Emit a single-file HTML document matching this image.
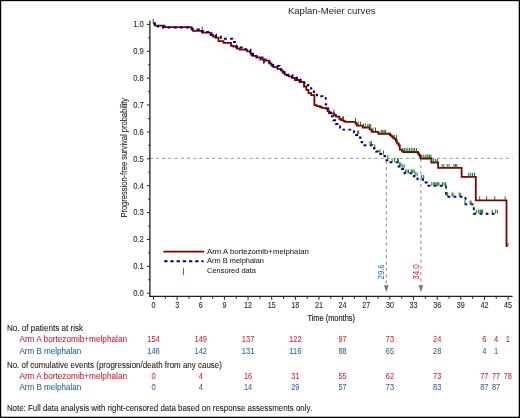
<!DOCTYPE html>
<html><head><meta charset="utf-8"><style>
html,body{margin:0;padding:0;background:#fff;}
svg{display:block;font-family:"Liberation Sans", sans-serif;will-change:transform;}
</style></head><body>
<svg width="520" height="418" viewBox="0 0 520 418">
<rect x="0" y="0" width="520" height="418" fill="#fff"/>
<rect x="0" y="0" width="520" height="1.15" fill="#000"/>
<rect x="0" y="0" width="1.2" height="418" fill="#000"/>
<rect x="518.7" y="0" width="1.3" height="418" fill="#000"/>
<rect x="0" y="416.7" width="520" height="1.3" fill="#000"/>
<text x="287.9" y="14.4" font-size="9.3" fill="#222" stroke="#222" stroke-width="0" text-anchor="start" textLength="87.6" lengthAdjust="spacingAndGlyphs" >Kaplan-Meier curves</text>
<line x1="149.45" y1="158.3" x2="512.6" y2="158.3" stroke="#999" stroke-width="1" stroke-dasharray="3.3 2.95"/>
<line x1="386.3" y1="160.7" x2="386.3" y2="285.5" stroke="#888" stroke-width="1" stroke-dasharray="3.2 3.1"/>
<path d="M384.0 285.3 L388.6 285.3 L386.3 292.2 Z" fill="#777"/>
<line x1="420.9" y1="158.7" x2="420.9" y2="285.5" stroke="#888" stroke-width="1" stroke-dasharray="3.2 3.1"/>
<path d="M418.59999999999997 285.3 L423.2 285.3 L420.9 292.2 Z" fill="#777"/>
<line x1="149.9" y1="20.5" x2="149.9" y2="296.9" stroke="#222" stroke-width="1.3"/>
<line x1="149.3" y1="296.3" x2="512.6" y2="296.3" stroke="#222" stroke-width="1.2"/>
<line x1="147" y1="293.20" x2="150" y2="293.20" stroke="#222" stroke-width="1"/>
<text x="143.9" y="296.10" font-size="8.6" fill="#222" stroke="#222" stroke-width="0.08" text-anchor="end" textLength="10.7" lengthAdjust="spacingAndGlyphs" >0.0</text>
<line x1="147" y1="266.32" x2="150" y2="266.32" stroke="#222" stroke-width="1"/>
<text x="143.9" y="269.22" font-size="8.6" fill="#222" stroke="#222" stroke-width="0.08" text-anchor="end" textLength="10.7" lengthAdjust="spacingAndGlyphs" >0.1</text>
<line x1="147" y1="239.44" x2="150" y2="239.44" stroke="#222" stroke-width="1"/>
<text x="143.9" y="242.34" font-size="8.6" fill="#222" stroke="#222" stroke-width="0.08" text-anchor="end" textLength="10.7" lengthAdjust="spacingAndGlyphs" >0.2</text>
<line x1="147" y1="212.56" x2="150" y2="212.56" stroke="#222" stroke-width="1"/>
<text x="143.9" y="215.46" font-size="8.6" fill="#222" stroke="#222" stroke-width="0.08" text-anchor="end" textLength="10.7" lengthAdjust="spacingAndGlyphs" >0.3</text>
<line x1="147" y1="185.68" x2="150" y2="185.68" stroke="#222" stroke-width="1"/>
<text x="143.9" y="188.58" font-size="8.6" fill="#222" stroke="#222" stroke-width="0.08" text-anchor="end" textLength="10.7" lengthAdjust="spacingAndGlyphs" >0.4</text>
<line x1="147" y1="158.80" x2="150" y2="158.80" stroke="#222" stroke-width="1"/>
<text x="143.9" y="161.70" font-size="8.6" fill="#222" stroke="#222" stroke-width="0.08" text-anchor="end" textLength="10.7" lengthAdjust="spacingAndGlyphs" >0.5</text>
<line x1="147" y1="131.92" x2="150" y2="131.92" stroke="#222" stroke-width="1"/>
<text x="143.9" y="134.82" font-size="8.6" fill="#222" stroke="#222" stroke-width="0.08" text-anchor="end" textLength="10.7" lengthAdjust="spacingAndGlyphs" >0.6</text>
<line x1="147" y1="105.04" x2="150" y2="105.04" stroke="#222" stroke-width="1"/>
<text x="143.9" y="107.94" font-size="8.6" fill="#222" stroke="#222" stroke-width="0.08" text-anchor="end" textLength="10.7" lengthAdjust="spacingAndGlyphs" >0.7</text>
<line x1="147" y1="78.16" x2="150" y2="78.16" stroke="#222" stroke-width="1"/>
<text x="143.9" y="81.06" font-size="8.6" fill="#222" stroke="#222" stroke-width="0.08" text-anchor="end" textLength="10.7" lengthAdjust="spacingAndGlyphs" >0.8</text>
<line x1="147" y1="51.28" x2="150" y2="51.28" stroke="#222" stroke-width="1"/>
<text x="143.9" y="54.18" font-size="8.6" fill="#222" stroke="#222" stroke-width="0.08" text-anchor="end" textLength="10.7" lengthAdjust="spacingAndGlyphs" >0.9</text>
<line x1="147" y1="24.40" x2="150" y2="24.40" stroke="#222" stroke-width="1"/>
<text x="143.9" y="27.30" font-size="8.6" fill="#222" stroke="#222" stroke-width="0.08" text-anchor="end" textLength="10.7" lengthAdjust="spacingAndGlyphs" >1.0</text>
<line x1="148.2" y1="279.76" x2="150" y2="279.76" stroke="#222" stroke-width="1"/>
<line x1="148.2" y1="252.88" x2="150" y2="252.88" stroke="#222" stroke-width="1"/>
<line x1="148.2" y1="226.00" x2="150" y2="226.00" stroke="#222" stroke-width="1"/>
<line x1="148.2" y1="199.12" x2="150" y2="199.12" stroke="#222" stroke-width="1"/>
<line x1="148.2" y1="172.24" x2="150" y2="172.24" stroke="#222" stroke-width="1"/>
<line x1="148.2" y1="145.36" x2="150" y2="145.36" stroke="#222" stroke-width="1"/>
<line x1="148.2" y1="118.48" x2="150" y2="118.48" stroke="#222" stroke-width="1"/>
<line x1="148.2" y1="91.60" x2="150" y2="91.60" stroke="#222" stroke-width="1"/>
<line x1="148.2" y1="64.72" x2="150" y2="64.72" stroke="#222" stroke-width="1"/>
<line x1="148.2" y1="37.84" x2="150" y2="37.84" stroke="#222" stroke-width="1"/>
<line x1="153.50" y1="296" x2="153.50" y2="299.8" stroke="#222" stroke-width="1"/>
<text x="153.50" y="308.3" font-size="8.5" fill="#222" stroke="#222" stroke-width="0.08" text-anchor="middle" textLength="4.0" lengthAdjust="spacingAndGlyphs" >0</text>
<line x1="177.14" y1="296" x2="177.14" y2="299.8" stroke="#222" stroke-width="1"/>
<text x="177.14" y="308.3" font-size="8.5" fill="#222" stroke="#222" stroke-width="0.08" text-anchor="middle" textLength="4.0" lengthAdjust="spacingAndGlyphs" >3</text>
<line x1="200.78" y1="296" x2="200.78" y2="299.8" stroke="#222" stroke-width="1"/>
<text x="200.78" y="308.3" font-size="8.5" fill="#222" stroke="#222" stroke-width="0.08" text-anchor="middle" textLength="4.0" lengthAdjust="spacingAndGlyphs" >6</text>
<line x1="224.42" y1="296" x2="224.42" y2="299.8" stroke="#222" stroke-width="1"/>
<text x="224.42" y="308.3" font-size="8.5" fill="#222" stroke="#222" stroke-width="0.08" text-anchor="middle" textLength="4.0" lengthAdjust="spacingAndGlyphs" >9</text>
<line x1="248.06" y1="296" x2="248.06" y2="299.8" stroke="#222" stroke-width="1"/>
<text x="248.06" y="308.3" font-size="8.5" fill="#222" stroke="#222" stroke-width="0.08" text-anchor="middle" textLength="8.0" lengthAdjust="spacingAndGlyphs" >12</text>
<line x1="271.70" y1="296" x2="271.70" y2="299.8" stroke="#222" stroke-width="1"/>
<text x="271.70" y="308.3" font-size="8.5" fill="#222" stroke="#222" stroke-width="0.08" text-anchor="middle" textLength="8.0" lengthAdjust="spacingAndGlyphs" >15</text>
<line x1="295.34" y1="296" x2="295.34" y2="299.8" stroke="#222" stroke-width="1"/>
<text x="295.34" y="308.3" font-size="8.5" fill="#222" stroke="#222" stroke-width="0.08" text-anchor="middle" textLength="8.0" lengthAdjust="spacingAndGlyphs" >18</text>
<line x1="318.98" y1="296" x2="318.98" y2="299.8" stroke="#222" stroke-width="1"/>
<text x="318.98" y="308.3" font-size="8.5" fill="#222" stroke="#222" stroke-width="0.08" text-anchor="middle" textLength="8.0" lengthAdjust="spacingAndGlyphs" >21</text>
<line x1="342.62" y1="296" x2="342.62" y2="299.8" stroke="#222" stroke-width="1"/>
<text x="342.62" y="308.3" font-size="8.5" fill="#222" stroke="#222" stroke-width="0.08" text-anchor="middle" textLength="8.0" lengthAdjust="spacingAndGlyphs" >24</text>
<line x1="366.26" y1="296" x2="366.26" y2="299.8" stroke="#222" stroke-width="1"/>
<text x="366.26" y="308.3" font-size="8.5" fill="#222" stroke="#222" stroke-width="0.08" text-anchor="middle" textLength="8.0" lengthAdjust="spacingAndGlyphs" >27</text>
<line x1="389.90" y1="296" x2="389.90" y2="299.8" stroke="#222" stroke-width="1"/>
<text x="389.90" y="308.3" font-size="8.5" fill="#222" stroke="#222" stroke-width="0.08" text-anchor="middle" textLength="8.0" lengthAdjust="spacingAndGlyphs" >30</text>
<line x1="413.54" y1="296" x2="413.54" y2="299.8" stroke="#222" stroke-width="1"/>
<text x="413.54" y="308.3" font-size="8.5" fill="#222" stroke="#222" stroke-width="0.08" text-anchor="middle" textLength="8.0" lengthAdjust="spacingAndGlyphs" >33</text>
<line x1="437.18" y1="296" x2="437.18" y2="299.8" stroke="#222" stroke-width="1"/>
<text x="437.18" y="308.3" font-size="8.5" fill="#222" stroke="#222" stroke-width="0.08" text-anchor="middle" textLength="8.0" lengthAdjust="spacingAndGlyphs" >36</text>
<line x1="460.82" y1="296" x2="460.82" y2="299.8" stroke="#222" stroke-width="1"/>
<text x="460.82" y="308.3" font-size="8.5" fill="#222" stroke="#222" stroke-width="0.08" text-anchor="middle" textLength="8.0" lengthAdjust="spacingAndGlyphs" >39</text>
<line x1="484.46" y1="296" x2="484.46" y2="299.8" stroke="#222" stroke-width="1"/>
<text x="484.46" y="308.3" font-size="8.5" fill="#222" stroke="#222" stroke-width="0.08" text-anchor="middle" textLength="8.0" lengthAdjust="spacingAndGlyphs" >42</text>
<line x1="508.10" y1="296" x2="508.10" y2="299.8" stroke="#222" stroke-width="1"/>
<text x="508.10" y="308.3" font-size="8.5" fill="#222" stroke="#222" stroke-width="0.08" text-anchor="middle" textLength="8.0" lengthAdjust="spacingAndGlyphs" >45</text>
<line x1="165.32" y1="296" x2="165.32" y2="298.8" stroke="#222" stroke-width="1"/>
<line x1="188.96" y1="296" x2="188.96" y2="298.8" stroke="#222" stroke-width="1"/>
<line x1="212.60" y1="296" x2="212.60" y2="298.8" stroke="#222" stroke-width="1"/>
<line x1="236.24" y1="296" x2="236.24" y2="298.8" stroke="#222" stroke-width="1"/>
<line x1="259.88" y1="296" x2="259.88" y2="298.8" stroke="#222" stroke-width="1"/>
<line x1="283.52" y1="296" x2="283.52" y2="298.8" stroke="#222" stroke-width="1"/>
<line x1="307.16" y1="296" x2="307.16" y2="298.8" stroke="#222" stroke-width="1"/>
<line x1="330.80" y1="296" x2="330.80" y2="298.8" stroke="#222" stroke-width="1"/>
<line x1="354.44" y1="296" x2="354.44" y2="298.8" stroke="#222" stroke-width="1"/>
<line x1="378.08" y1="296" x2="378.08" y2="298.8" stroke="#222" stroke-width="1"/>
<line x1="401.72" y1="296" x2="401.72" y2="298.8" stroke="#222" stroke-width="1"/>
<line x1="425.36" y1="296" x2="425.36" y2="298.8" stroke="#222" stroke-width="1"/>
<line x1="449.00" y1="296" x2="449.00" y2="298.8" stroke="#222" stroke-width="1"/>
<line x1="472.64" y1="296" x2="472.64" y2="298.8" stroke="#222" stroke-width="1"/>
<line x1="496.28" y1="296" x2="496.28" y2="298.8" stroke="#222" stroke-width="1"/>
<text x="331.2" y="321.3" font-size="9.8" fill="#222" stroke="#222" stroke-width="0.2" text-anchor="middle" textLength="47.6" lengthAdjust="spacingAndGlyphs" >Time (months)</text>
<text x="0" y="0" font-size="9.3" fill="#222" stroke="#222" stroke-width="0.1" text-anchor="middle" textLength="119.7" lengthAdjust="spacingAndGlyphs" transform="translate(127.0 157.75) rotate(-90)">Progression-free survival probability</text>
<polyline points="153.5,24.4 155,24.4 155,25.6 164.5,25.6 164.5,27.2 191.5,27.2 191.5,29 193,29 193,30.8 202,30.8 202,32.6 210.5,32.6 210.5,34.8 213,34.8 213,36.5 215.5,36.5 215.5,37.7 218.5,37.7 218.5,41.1 223.5,41.1 223.5,42.9 231,42.9 231,45.8 233.5,45.8 233.5,46.7 237,46.7 237,48.5 239.8,48.5 239.8,49.6 247,49.6 247,51.3 250.4,51.3 250.4,53.5 251.5,53.5 251.5,55.4 252.8,55.4 252.8,55.9 256.6,55.9 256.6,57.3 262.6,57.3 262.6,59.5 265.8,59.5 265.8,60.7 269.5,60.7 269.5,63.5 271.5,63.5 271.5,65.5 273.5,65.5 273.5,67.2 277.3,67.2 277.3,68.8 281.2,68.8 281.2,70.5 282.7,70.5 282.7,72.5 284.8,72.5 284.8,74.6 288.6,74.6 288.6,76.3 291.8,76.3 291.8,77.9 295,77.9 295,80 299.4,80 299.4,82 304,82 304,86.5 306.3,86.5 306.3,89.8 308.5,89.8 308.5,93.2 311.2,93.2 311.2,95.1 314.4,95.1 314.4,105.2 316.7,105.2 316.7,106.2 320,106.2 320,107 321.7,107 321.7,107.9 325.9,107.9 325.9,108.6 327.6,108.6 327.6,111.2 329.2,111.2 329.2,113.4 334.3,113.4 334.3,115 335.9,115 335.9,116.7 339.3,116.7 339.3,118.8 341,118.8 341,120.1 343.5,120.1 343.5,121.2 345.2,121.2 345.2,121.9 355.5,121.9 355.5,123.5 356.8,123.5 356.8,125.6 362.8,125.6 362.8,127.5 369.6,127.5 369.6,129.4 371.5,129.4 371.5,131.5 373,131.5 373,131.8 378.4,131.8 378.4,133.75 390,133.75 390,135.2 391.5,135.2 391.5,136.5 393,136.5 393,137.8 394.5,137.8 394.5,139 396,139 396,141.5 397.2,141.5 397.2,143.5 398.7,143.5 398.7,145.5 399.8,145.5 399.8,149.6 402,149.6 402,151 403.2,151 403.2,152 418,152 418,153.5 419,153.5 419,154.8 419.8,154.8 419.8,156.5 420.8,156.5 420.8,158.5 431.3,158.5 431.3,162.5 438.1,162.5 438.1,167.8 461.6,167.8 461.6,176.8 475.8,176.8 475.8,200.3 506.5,200.3 506.5,247" fill="none" stroke="#800000" stroke-width="1.8"/>
<polyline points="153.5,23.2 155,23.2 155,24.2 157.8,24.2 157.8,26.5 163,26.5 163,27.5 190,27.5 190,28.3 192,28.3 192,29.4 199,29.4 199,31.1 203.4,31.1 203.4,32 209,32 209,33.1 211.5,33.1 211.5,34.8 216,34.8 216,36.5 220.8,36.5 220.8,38.8 232.3,38.8 232.3,42 236.5,42 236.5,47.5 245.5,47.5 245.5,49.6 250.5,49.6 250.5,51.5 253,51.5 253,55.4 256.5,55.4 256.5,57.3 260.5,57.3 260.5,59.5 264,59.5 264,62.6 270,62.6 270,65 273,65 273,66 279.5,66 279.5,67.5 281,67.5 281,70 282,70 282,72 284,72 284,75.3 292.5,75.3 292.5,77.6 297,77.6 297,79.5 300.7,79.5 300.7,82.7 304.5,82.7 304.5,84.9 308.3,84.9 308.3,88.1 311.3,88.1 311.3,91.4 314,91.4 314,94.6 317,94.6 317,96.2 322.5,96.2 322.5,97.9 325.7,97.9 325.7,104.5 327.3,104.5 327.3,108.5 329.3,108.5 329.3,112.5 331,112.5 331,116.3 333.3,116.3 333.3,120.3 336,120.3 336,124 338.5,124 338.5,126.5 340,126.5 340,128.7 342.2,128.7 342.2,129.6 354,129.6 354,132.3 356,132.3 356,135 358.5,135 358.5,137.5 360.5,137.5 360.5,139.5 361.6,139.5 361.6,142.3 364.4,142.3 364.4,145.2 372.5,145.2 372.5,146.5 374,146.5 374,148.5 376,148.5 376,151.5 378.5,151.5 378.5,154 383,154 383,156 385,156 385,160.2 389.5,160.2 389.5,162.3 398.5,162.3 398.5,166.5 402,166.5 402,169 404.6,169 404.6,173.2 413.8,173.2 413.8,176.2 417.5,176.2 417.5,179.2 423,179.2 423,182.5 426.8,182.5 426.8,185.8 446,185.8 446,196.7 465.5,196.7 465.5,204.3 473.8,204.3 473.8,213.8 496.6,213.8" fill="none" stroke="#000080" stroke-width="1.9" stroke-dasharray="2.8 3.35"/>
<line x1="153.3" y1="19" x2="153.3" y2="24" stroke="#0d741f" stroke-width="1.1"/>
<line x1="202.20" y1="26.70" x2="202.20" y2="30.40" stroke="#0d741f" stroke-width="1"/>
<line x1="333.90" y1="109.50" x2="333.90" y2="113.20" stroke="#0d741f" stroke-width="1"/>
<line x1="342.60" y1="116.40" x2="342.60" y2="120.10" stroke="#0d741f" stroke-width="1"/>
<line x1="343.50" y1="116.40" x2="343.50" y2="120.10" stroke="#0d741f" stroke-width="1"/>
<line x1="355.50" y1="117.80" x2="355.50" y2="121.50" stroke="#0d741f" stroke-width="1"/>
<line x1="358.20" y1="121.60" x2="358.20" y2="125.30" stroke="#0d741f" stroke-width="1"/>
<line x1="360.60" y1="121.60" x2="360.60" y2="125.30" stroke="#0d741f" stroke-width="1"/>
<line x1="363.50" y1="123.50" x2="363.50" y2="127.20" stroke="#0d741f" stroke-width="1"/>
<line x1="365.40" y1="123.50" x2="365.40" y2="127.20" stroke="#0d741f" stroke-width="1"/>
<line x1="367.80" y1="123.90" x2="367.80" y2="127.60" stroke="#0d741f" stroke-width="1"/>
<line x1="369.25" y1="123.90" x2="369.25" y2="127.60" stroke="#0d741f" stroke-width="1"/>
<line x1="370.70" y1="123.90" x2="370.70" y2="127.60" stroke="#0d741f" stroke-width="1"/>
<line x1="373.00" y1="127.50" x2="373.00" y2="131.20" stroke="#0d741f" stroke-width="1"/>
<line x1="375.50" y1="127.50" x2="375.50" y2="131.20" stroke="#0d741f" stroke-width="1"/>
<line x1="381.30" y1="129.80" x2="381.30" y2="133.50" stroke="#0d741f" stroke-width="1"/>
<line x1="382.73" y1="129.80" x2="382.73" y2="133.50" stroke="#0d741f" stroke-width="1"/>
<line x1="384.17" y1="129.80" x2="384.17" y2="133.50" stroke="#0d741f" stroke-width="1"/>
<line x1="385.60" y1="129.80" x2="385.60" y2="133.50" stroke="#0d741f" stroke-width="1"/>
<line x1="394.20" y1="134.90" x2="394.20" y2="138.60" stroke="#0d741f" stroke-width="1"/>
<line x1="396.60" y1="134.90" x2="396.60" y2="138.60" stroke="#0d741f" stroke-width="1"/>
<line x1="397.40" y1="139.30" x2="397.40" y2="143.00" stroke="#0d741f" stroke-width="1"/>
<line x1="402.70" y1="148.10" x2="402.70" y2="151.80" stroke="#0d741f" stroke-width="1"/>
<line x1="404.42" y1="148.10" x2="404.42" y2="151.80" stroke="#0d741f" stroke-width="1"/>
<line x1="406.13" y1="148.10" x2="406.13" y2="151.80" stroke="#0d741f" stroke-width="1"/>
<line x1="407.85" y1="148.10" x2="407.85" y2="151.80" stroke="#0d741f" stroke-width="1"/>
<line x1="409.57" y1="148.10" x2="409.57" y2="151.80" stroke="#0d741f" stroke-width="1"/>
<line x1="411.28" y1="148.10" x2="411.28" y2="151.80" stroke="#0d741f" stroke-width="1"/>
<line x1="413.00" y1="148.10" x2="413.00" y2="151.80" stroke="#0d741f" stroke-width="1"/>
<line x1="414.50" y1="148.10" x2="414.50" y2="151.80" stroke="#0d741f" stroke-width="1"/>
<line x1="416.50" y1="148.10" x2="416.50" y2="151.80" stroke="#0d741f" stroke-width="1"/>
<line x1="421.30" y1="154.60" x2="421.30" y2="158.30" stroke="#0d741f" stroke-width="1"/>
<line x1="423.20" y1="154.60" x2="423.20" y2="158.30" stroke="#0d741f" stroke-width="1"/>
<line x1="425.10" y1="154.60" x2="425.10" y2="158.30" stroke="#0d741f" stroke-width="1"/>
<line x1="427.00" y1="154.60" x2="427.00" y2="158.30" stroke="#0d741f" stroke-width="1"/>
<line x1="428.00" y1="154.60" x2="428.00" y2="158.30" stroke="#0d741f" stroke-width="1"/>
<line x1="429.50" y1="154.60" x2="429.50" y2="158.30" stroke="#0d741f" stroke-width="1"/>
<line x1="431.00" y1="154.60" x2="431.00" y2="158.30" stroke="#0d741f" stroke-width="1"/>
<line x1="431.80" y1="158.80" x2="431.80" y2="162.50" stroke="#0d741f" stroke-width="1"/>
<line x1="433.73" y1="158.80" x2="433.73" y2="162.50" stroke="#0d741f" stroke-width="1"/>
<line x1="435.67" y1="158.80" x2="435.67" y2="162.50" stroke="#0d741f" stroke-width="1"/>
<line x1="437.60" y1="158.80" x2="437.60" y2="162.50" stroke="#0d741f" stroke-width="1"/>
<line x1="442.00" y1="164.10" x2="442.00" y2="167.80" stroke="#0d741f" stroke-width="1"/>
<line x1="443.80" y1="164.10" x2="443.80" y2="167.80" stroke="#0d741f" stroke-width="1"/>
<line x1="447.20" y1="164.10" x2="447.20" y2="167.80" stroke="#0d741f" stroke-width="1"/>
<line x1="449.10" y1="164.10" x2="449.10" y2="167.80" stroke="#0d741f" stroke-width="1"/>
<line x1="454.00" y1="164.10" x2="454.00" y2="167.80" stroke="#0d741f" stroke-width="1"/>
<line x1="455.40" y1="164.10" x2="455.40" y2="167.80" stroke="#0d741f" stroke-width="1"/>
<line x1="456.80" y1="164.10" x2="456.80" y2="167.80" stroke="#0d741f" stroke-width="1"/>
<line x1="468.80" y1="172.80" x2="468.80" y2="176.50" stroke="#0d741f" stroke-width="1"/>
<line x1="470.70" y1="172.80" x2="470.70" y2="176.50" stroke="#0d741f" stroke-width="1"/>
<line x1="472.60" y1="172.80" x2="472.60" y2="176.50" stroke="#0d741f" stroke-width="1"/>
<line x1="474.50" y1="172.80" x2="474.50" y2="176.50" stroke="#0d741f" stroke-width="1"/>
<line x1="479.70" y1="196.30" x2="479.70" y2="200.00" stroke="#0d741f" stroke-width="1"/>
<line x1="486.60" y1="196.30" x2="486.60" y2="200.00" stroke="#0d741f" stroke-width="1"/>
<line x1="494.80" y1="196.30" x2="494.80" y2="200.00" stroke="#0d741f" stroke-width="1"/>
<line x1="505.20" y1="196.30" x2="505.20" y2="200.00" stroke="#0d741f" stroke-width="1"/>
<line x1="508.00" y1="242.80" x2="508.00" y2="246.50" stroke="#0d741f" stroke-width="1"/>
<line x1="357.70" y1="130.50" x2="357.70" y2="134.20" stroke="#0d741f" stroke-width="1"/>
<line x1="358.70" y1="130.50" x2="358.70" y2="134.20" stroke="#0d741f" stroke-width="1"/>
<line x1="370.00" y1="141.10" x2="370.00" y2="144.80" stroke="#0d741f" stroke-width="1"/>
<line x1="371.40" y1="141.10" x2="371.40" y2="144.80" stroke="#0d741f" stroke-width="1"/>
<line x1="374.80" y1="144.50" x2="374.80" y2="148.20" stroke="#0d741f" stroke-width="1"/>
<line x1="380.00" y1="149.30" x2="380.00" y2="153.00" stroke="#0d741f" stroke-width="1"/>
<line x1="383.50" y1="150.70" x2="383.50" y2="154.40" stroke="#0d741f" stroke-width="1"/>
<line x1="387.80" y1="155.10" x2="387.80" y2="158.80" stroke="#0d741f" stroke-width="1"/>
<line x1="392.10" y1="158.40" x2="392.10" y2="162.10" stroke="#0d741f" stroke-width="1"/>
<line x1="394.50" y1="158.40" x2="394.50" y2="162.10" stroke="#0d741f" stroke-width="1"/>
<line x1="397.40" y1="158.40" x2="397.40" y2="162.10" stroke="#0d741f" stroke-width="1"/>
<line x1="398.40" y1="158.40" x2="398.40" y2="162.10" stroke="#0d741f" stroke-width="1"/>
<line x1="399.30" y1="162.30" x2="399.30" y2="166.00" stroke="#0d741f" stroke-width="1"/>
<line x1="400.80" y1="162.30" x2="400.80" y2="166.00" stroke="#0d741f" stroke-width="1"/>
<line x1="402.20" y1="164.20" x2="402.20" y2="167.90" stroke="#0d741f" stroke-width="1"/>
<line x1="404.10" y1="164.20" x2="404.10" y2="167.90" stroke="#0d741f" stroke-width="1"/>
<line x1="405.60" y1="169.50" x2="405.60" y2="173.20" stroke="#0d741f" stroke-width="1"/>
<line x1="407.05" y1="169.50" x2="407.05" y2="173.20" stroke="#0d741f" stroke-width="1"/>
<line x1="408.50" y1="169.50" x2="408.50" y2="173.20" stroke="#0d741f" stroke-width="1"/>
<line x1="411.30" y1="169.50" x2="411.30" y2="173.20" stroke="#0d741f" stroke-width="1"/>
<line x1="412.75" y1="169.50" x2="412.75" y2="173.20" stroke="#0d741f" stroke-width="1"/>
<line x1="414.20" y1="169.50" x2="414.20" y2="173.20" stroke="#0d741f" stroke-width="1"/>
<line x1="415.20" y1="172.30" x2="415.20" y2="176.00" stroke="#0d741f" stroke-width="1"/>
<line x1="417.10" y1="172.30" x2="417.10" y2="176.00" stroke="#0d741f" stroke-width="1"/>
<line x1="421.70" y1="175.00" x2="421.70" y2="178.70" stroke="#0d741f" stroke-width="1"/>
<line x1="423.70" y1="175.00" x2="423.70" y2="178.70" stroke="#0d741f" stroke-width="1"/>
<line x1="431.80" y1="182.20" x2="431.80" y2="185.90" stroke="#0d741f" stroke-width="1"/>
<line x1="433.80" y1="182.20" x2="433.80" y2="185.90" stroke="#0d741f" stroke-width="1"/>
<line x1="434.70" y1="182.20" x2="434.70" y2="185.90" stroke="#0d741f" stroke-width="1"/>
<line x1="436.20" y1="182.20" x2="436.20" y2="185.90" stroke="#0d741f" stroke-width="1"/>
<line x1="437.60" y1="182.20" x2="437.60" y2="185.90" stroke="#0d741f" stroke-width="1"/>
<line x1="439.00" y1="182.20" x2="439.00" y2="185.90" stroke="#0d741f" stroke-width="1"/>
<line x1="442.40" y1="182.20" x2="442.40" y2="185.90" stroke="#0d741f" stroke-width="1"/>
<line x1="444.10" y1="182.20" x2="444.10" y2="185.90" stroke="#0d741f" stroke-width="1"/>
<line x1="445.80" y1="182.20" x2="445.80" y2="185.90" stroke="#0d741f" stroke-width="1"/>
<line x1="445.80" y1="184.60" x2="445.80" y2="188.30" stroke="#0d741f" stroke-width="1"/>
<line x1="446.70" y1="192.20" x2="446.70" y2="195.90" stroke="#0d741f" stroke-width="1"/>
<line x1="447.70" y1="192.20" x2="447.70" y2="195.90" stroke="#0d741f" stroke-width="1"/>
<line x1="452.00" y1="192.70" x2="452.00" y2="196.40" stroke="#0d741f" stroke-width="1"/>
<line x1="453.00" y1="192.70" x2="453.00" y2="196.40" stroke="#0d741f" stroke-width="1"/>
<line x1="459.20" y1="192.70" x2="459.20" y2="196.40" stroke="#0d741f" stroke-width="1"/>
<line x1="460.20" y1="192.70" x2="460.20" y2="196.40" stroke="#0d741f" stroke-width="1"/>
<line x1="465.00" y1="200.10" x2="465.00" y2="203.80" stroke="#0d741f" stroke-width="1"/>
<line x1="470.10" y1="200.60" x2="470.10" y2="204.30" stroke="#0d741f" stroke-width="1"/>
<line x1="471.00" y1="200.60" x2="471.00" y2="204.30" stroke="#0d741f" stroke-width="1"/>
<line x1="476.20" y1="209.70" x2="476.20" y2="213.40" stroke="#0d741f" stroke-width="1"/>
<line x1="478.40" y1="209.70" x2="478.40" y2="213.40" stroke="#0d741f" stroke-width="1"/>
<line x1="480.10" y1="209.70" x2="480.10" y2="213.40" stroke="#0d741f" stroke-width="1"/>
<line x1="481.00" y1="209.70" x2="481.00" y2="213.40" stroke="#0d741f" stroke-width="1"/>
<line x1="481.80" y1="209.70" x2="481.80" y2="213.40" stroke="#0d741f" stroke-width="1"/>
<line x1="482.70" y1="209.70" x2="482.70" y2="213.40" stroke="#0d741f" stroke-width="1"/>
<line x1="492.20" y1="209.70" x2="492.20" y2="213.40" stroke="#0d741f" stroke-width="1"/>
<line x1="495.70" y1="209.70" x2="495.70" y2="213.40" stroke="#0d741f" stroke-width="1"/>
<line x1="497.40" y1="209.70" x2="497.40" y2="213.40" stroke="#0d741f" stroke-width="1"/>
<text x="0" y="0" font-size="8.2" fill="#2b65a0" text-anchor="middle" textLength="15" lengthAdjust="spacingAndGlyphs" transform="translate(384.1 271.9) rotate(-90)">29.6</text>
<text x="0" y="0" font-size="8.2" fill="#d0213d" text-anchor="middle" textLength="15.6" lengthAdjust="spacingAndGlyphs" transform="translate(419.1 272.0) rotate(-90)">34.0</text>
<line x1="163.4" y1="251.7" x2="204.1" y2="251.7" stroke="#800000" stroke-width="1.8"/>
<line x1="164.2" y1="261.2" x2="203.6" y2="261.2" stroke="#000080" stroke-width="2" stroke-dasharray="3.3 2.9"/>
<line x1="183.5" y1="268" x2="183.5" y2="275" stroke="#2a8f3a" stroke-width="1"/>
<text x="207" y="253.7" font-size="7.9" fill="#222" stroke="#222" stroke-width="0.05" text-anchor="start" textLength="101.8" lengthAdjust="spacingAndGlyphs" >Arm A bortezomib+melphalan</text>
<text x="207" y="263.4" font-size="7.9" fill="#222" stroke="#222" stroke-width="0.05" text-anchor="start" textLength="57" lengthAdjust="spacingAndGlyphs" >Arm B melphalan</text>
<text x="207" y="272.9" font-size="7.9" fill="#222" stroke="#222" stroke-width="0.05" text-anchor="start" textLength="49" lengthAdjust="spacingAndGlyphs" >Censored data</text>
<text x="6.9" y="330.9" font-size="8.4" fill="#222" stroke="#222" stroke-width="0.08" text-anchor="start" textLength="76.3" lengthAdjust="spacingAndGlyphs" >No. of patients at risk</text>
<text x="19.4" y="342.2" font-size="8.5" fill="#d0213d" stroke="#d0213d" stroke-width="0.08" text-anchor="start" textLength="107.7" lengthAdjust="spacingAndGlyphs" >Arm A bortezomib+melphalan</text>
<text x="19.4" y="353.6" font-size="8.5" fill="#2b65a0" stroke="#2b65a0" stroke-width="0.08" text-anchor="start" textLength="61.8" lengthAdjust="spacingAndGlyphs" >Arm B melphalan</text>
<text x="6.9" y="367.8" font-size="8.4" fill="#222" stroke="#222" stroke-width="0.08" text-anchor="start" textLength="215" lengthAdjust="spacingAndGlyphs" >No. of cumulative events (progression/death from any cause)</text>
<text x="19.4" y="379.1" font-size="8.5" fill="#d0213d" stroke="#d0213d" stroke-width="0.08" text-anchor="start" textLength="107.7" lengthAdjust="spacingAndGlyphs" >Arm A bortezomib+melphalan</text>
<text x="19.4" y="390.4" font-size="8.5" fill="#2b65a0" stroke="#2b65a0" stroke-width="0.08" text-anchor="start" textLength="61.8" lengthAdjust="spacingAndGlyphs" >Arm B melphalan</text>
<text x="6.9" y="410.8" font-size="8.4" fill="#222" stroke="#222" stroke-width="0.08" text-anchor="start" textLength="305.2" lengthAdjust="spacingAndGlyphs" >Note: Full data analysis with right-censored data based on response assessments only.</text>
<text x="153.50" y="342.2" font-size="8.2" fill="#d0213d" stroke="#d0213d" stroke-width="0.05" text-anchor="middle" textLength="12.6" lengthAdjust="spacingAndGlyphs" >154</text>
<text x="200.78" y="342.2" font-size="8.2" fill="#d0213d" stroke="#d0213d" stroke-width="0.05" text-anchor="middle" textLength="12.6" lengthAdjust="spacingAndGlyphs" >149</text>
<text x="248.06" y="342.2" font-size="8.2" fill="#d0213d" stroke="#d0213d" stroke-width="0.05" text-anchor="middle" textLength="12.6" lengthAdjust="spacingAndGlyphs" >137</text>
<text x="295.34" y="342.2" font-size="8.2" fill="#d0213d" stroke="#d0213d" stroke-width="0.05" text-anchor="middle" textLength="12.6" lengthAdjust="spacingAndGlyphs" >122</text>
<text x="342.62" y="342.2" font-size="8.2" fill="#d0213d" stroke="#d0213d" stroke-width="0.05" text-anchor="middle" textLength="8.2" lengthAdjust="spacingAndGlyphs" >97</text>
<text x="389.90" y="342.2" font-size="8.2" fill="#d0213d" stroke="#d0213d" stroke-width="0.05" text-anchor="middle" textLength="8.2" lengthAdjust="spacingAndGlyphs" >73</text>
<text x="437.18" y="342.2" font-size="8.2" fill="#d0213d" stroke="#d0213d" stroke-width="0.05" text-anchor="middle" textLength="8.2" lengthAdjust="spacingAndGlyphs" >24</text>
<text x="484.30" y="342.2" font-size="8.2" fill="#d0213d" stroke="#d0213d" stroke-width="0.05" text-anchor="middle" textLength="4.2" lengthAdjust="spacingAndGlyphs" >6</text>
<text x="496.10" y="342.2" font-size="8.2" fill="#d0213d" stroke="#d0213d" stroke-width="0.05" text-anchor="middle" textLength="4.2" lengthAdjust="spacingAndGlyphs" >4</text>
<text x="507.80" y="342.2" font-size="8.2" fill="#d0213d" stroke="#d0213d" stroke-width="0.05" text-anchor="middle" textLength="4.2" lengthAdjust="spacingAndGlyphs" >1</text>
<text x="153.50" y="353.7" font-size="8.2" fill="#2b65a0" stroke="#2b65a0" stroke-width="0.05" text-anchor="middle" textLength="12.6" lengthAdjust="spacingAndGlyphs" >146</text>
<text x="200.78" y="353.7" font-size="8.2" fill="#2b65a0" stroke="#2b65a0" stroke-width="0.05" text-anchor="middle" textLength="12.6" lengthAdjust="spacingAndGlyphs" >142</text>
<text x="248.06" y="353.7" font-size="8.2" fill="#2b65a0" stroke="#2b65a0" stroke-width="0.05" text-anchor="middle" textLength="12.6" lengthAdjust="spacingAndGlyphs" >131</text>
<text x="295.34" y="353.7" font-size="8.2" fill="#2b65a0" stroke="#2b65a0" stroke-width="0.05" text-anchor="middle" textLength="12.6" lengthAdjust="spacingAndGlyphs" >116</text>
<text x="342.62" y="353.7" font-size="8.2" fill="#2b65a0" stroke="#2b65a0" stroke-width="0.05" text-anchor="middle" textLength="8.2" lengthAdjust="spacingAndGlyphs" >88</text>
<text x="389.90" y="353.7" font-size="8.2" fill="#2b65a0" stroke="#2b65a0" stroke-width="0.05" text-anchor="middle" textLength="8.2" lengthAdjust="spacingAndGlyphs" >65</text>
<text x="437.18" y="353.7" font-size="8.2" fill="#2b65a0" stroke="#2b65a0" stroke-width="0.05" text-anchor="middle" textLength="8.2" lengthAdjust="spacingAndGlyphs" >28</text>
<text x="484.30" y="353.7" font-size="8.2" fill="#2b65a0" stroke="#2b65a0" stroke-width="0.05" text-anchor="middle" textLength="4.2" lengthAdjust="spacingAndGlyphs" >4</text>
<text x="496.10" y="353.7" font-size="8.2" fill="#2b65a0" stroke="#2b65a0" stroke-width="0.05" text-anchor="middle" textLength="4.2" lengthAdjust="spacingAndGlyphs" >1</text>
<text x="153.50" y="379.1" font-size="8.2" fill="#d0213d" stroke="#d0213d" stroke-width="0.05" text-anchor="middle" textLength="4.2" lengthAdjust="spacingAndGlyphs" >0</text>
<text x="200.78" y="379.1" font-size="8.2" fill="#d0213d" stroke="#d0213d" stroke-width="0.05" text-anchor="middle" textLength="4.2" lengthAdjust="spacingAndGlyphs" >4</text>
<text x="248.06" y="379.1" font-size="8.2" fill="#d0213d" stroke="#d0213d" stroke-width="0.05" text-anchor="middle" textLength="8.2" lengthAdjust="spacingAndGlyphs" >16</text>
<text x="295.34" y="379.1" font-size="8.2" fill="#d0213d" stroke="#d0213d" stroke-width="0.05" text-anchor="middle" textLength="8.2" lengthAdjust="spacingAndGlyphs" >31</text>
<text x="342.62" y="379.1" font-size="8.2" fill="#d0213d" stroke="#d0213d" stroke-width="0.05" text-anchor="middle" textLength="8.2" lengthAdjust="spacingAndGlyphs" >55</text>
<text x="389.90" y="379.1" font-size="8.2" fill="#d0213d" stroke="#d0213d" stroke-width="0.05" text-anchor="middle" textLength="8.2" lengthAdjust="spacingAndGlyphs" >62</text>
<text x="437.18" y="379.1" font-size="8.2" fill="#d0213d" stroke="#d0213d" stroke-width="0.05" text-anchor="middle" textLength="8.2" lengthAdjust="spacingAndGlyphs" >73</text>
<text x="484.30" y="379.1" font-size="8.2" fill="#d0213d" stroke="#d0213d" stroke-width="0.05" text-anchor="middle" textLength="8.2" lengthAdjust="spacingAndGlyphs" >77</text>
<text x="496.10" y="379.1" font-size="8.2" fill="#d0213d" stroke="#d0213d" stroke-width="0.05" text-anchor="middle" textLength="8.2" lengthAdjust="spacingAndGlyphs" >77</text>
<text x="507.80" y="379.1" font-size="8.2" fill="#d0213d" stroke="#d0213d" stroke-width="0.05" text-anchor="middle" textLength="8.2" lengthAdjust="spacingAndGlyphs" >78</text>
<text x="153.50" y="390.4" font-size="8.2" fill="#2b65a0" stroke="#2b65a0" stroke-width="0.05" text-anchor="middle" textLength="4.2" lengthAdjust="spacingAndGlyphs" >0</text>
<text x="200.78" y="390.4" font-size="8.2" fill="#2b65a0" stroke="#2b65a0" stroke-width="0.05" text-anchor="middle" textLength="4.2" lengthAdjust="spacingAndGlyphs" >4</text>
<text x="248.06" y="390.4" font-size="8.2" fill="#2b65a0" stroke="#2b65a0" stroke-width="0.05" text-anchor="middle" textLength="8.2" lengthAdjust="spacingAndGlyphs" >14</text>
<text x="295.34" y="390.4" font-size="8.2" fill="#2b65a0" stroke="#2b65a0" stroke-width="0.05" text-anchor="middle" textLength="8.2" lengthAdjust="spacingAndGlyphs" >29</text>
<text x="342.62" y="390.4" font-size="8.2" fill="#2b65a0" stroke="#2b65a0" stroke-width="0.05" text-anchor="middle" textLength="8.2" lengthAdjust="spacingAndGlyphs" >57</text>
<text x="389.90" y="390.4" font-size="8.2" fill="#2b65a0" stroke="#2b65a0" stroke-width="0.05" text-anchor="middle" textLength="8.2" lengthAdjust="spacingAndGlyphs" >73</text>
<text x="437.18" y="390.4" font-size="8.2" fill="#2b65a0" stroke="#2b65a0" stroke-width="0.05" text-anchor="middle" textLength="8.2" lengthAdjust="spacingAndGlyphs" >83</text>
<text x="484.30" y="390.4" font-size="8.2" fill="#2b65a0" stroke="#2b65a0" stroke-width="0.05" text-anchor="middle" textLength="8.2" lengthAdjust="spacingAndGlyphs" >87</text>
<text x="496.10" y="390.4" font-size="8.2" fill="#2b65a0" stroke="#2b65a0" stroke-width="0.05" text-anchor="middle" textLength="8.2" lengthAdjust="spacingAndGlyphs" >87</text>
</svg>
</body></html>
